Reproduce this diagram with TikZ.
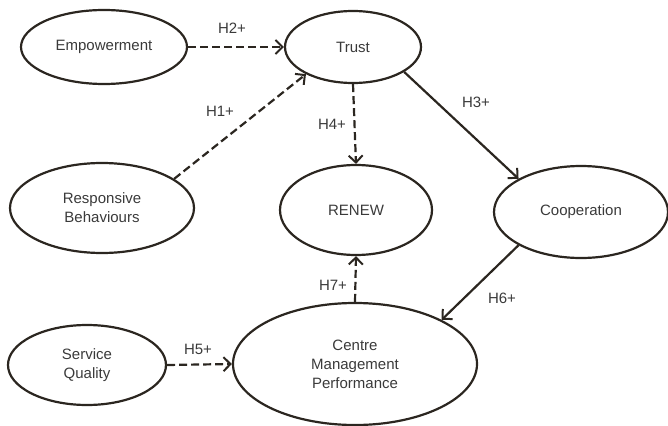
\documentclass[tikz,border=0pt]{standalone}
\usepackage{fontspec}
\setmainfont{Liberation Sans}
\usetikzlibrary{shapes.geometric,arrows.meta}
\definecolor{ln}{HTML}{2B2620}
\definecolor{tx}{HTML}{3A3A3A}
\tikzset{
  construct/.style={ellipse,draw=ln,line width=2.2pt,inner sep=0pt,align=center,text=tx,font=\fontsize{15}{19}\selectfont},
  path/.style={draw=ln,line width=2.2pt,-{Straight Barb[length=7pt,width=14pt,line width=2pt]}},
  hyp/.style={path,dash pattern=on 8pt off 4pt},
  lbl/.style={text=tx,font=\fontsize{15}{19}\selectfont,inner sep=0pt}
}
\begin{document}
\begin{tikzpicture}[x=1pt,y=-1pt]
\useasboundingbox (0,0) rectangle (668,425);
\node[construct,minimum width=166pt,minimum height=74pt] (emp) at (104,47) {Empowerment};
\node[construct,minimum width=136pt,minimum height=72pt] (trust) at (353,47) {Trust};
\node[construct,minimum width=184pt,minimum height=90pt] (resp) at (102,208) {Responsive\\Behaviours};
\node[construct,minimum width=152pt,minimum height=90pt] (renew) at (356,210) {RENEW};
\node[construct,minimum width=174pt,minimum height=92pt] (coop) at (581,212) {Cooperation};
\node[construct,minimum width=158pt,minimum height=80pt] (sq) at (87,365) {Service\\Quality};
\node[construct,minimum width=244pt,minimum height=122pt] (cmp) at (355,364) {Centre\\Management\\Performance};

\draw[hyp] (emp.east) -- (trust.west);
\draw[hyp] (resp.22) -- (trust.210);
\draw[hyp] (trust.south) -- (renew.north);
\draw[path] (trust.-26) -- (coop.152);
\draw[path] (coop.208) -- (cmp.27);
\draw[hyp] (cmp.north) -- (renew.south);
\draw[hyp] (sq.east) -- (cmp.west);

\node[lbl] (h2) at (232,28) {H2+};
\node[lbl] (h1) at (220,111) {H1+};
\node[lbl] (h4) at (332,124) {H4+};
\node[lbl] (h3) at (476,102) {H3+};
\node[lbl] (h6) at (502,298) {H6+};
\node[lbl] (h7) at (333,285) {H7+};
\node[lbl] (h5) at (198,349) {H5+};
\end{tikzpicture}
\end{document}
